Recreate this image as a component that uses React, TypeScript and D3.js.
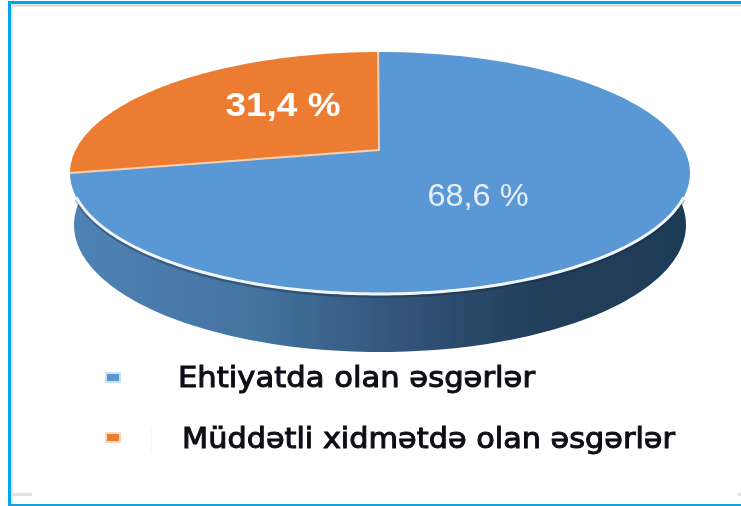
import React from "react";
import * as d3 from "d3";

const categories = ["Ehtiyatda olan əsgərlər", "Müddətli xidmətdə olan əsgərlər"];
const shares = [68.6, 31.4];
const shareLabels = ["68,6 %", "31,4 %"];
const colors = ["#5a98d5", "#ec7c30"];
const wallStops = [
  { at: "0%", color: "#4f83b6" },
  { at: "30%", color: "#43739f" },
  { at: "53%", color: "#32557a" },
  { at: "75%", color: "#233f5c" },
  { at: "100%", color: "#1f3a56" },
];

const width = 741;
const height = 506;

// top face of the pie, the slices meet off centre because of the perspective
const face = { cx: 380, cy: 173, rx: 310, ry: 121 };
const vertex = { x: 379, y: 150 };
const wall = { cx: 380, cy: 225, rx: 306, ry: 127 };

const tau = Math.PI * 2;

function point(e: typeof face, a: number): [number, number] {
  return [e.cx + e.rx * Math.sin(a), e.cy - e.ry * Math.cos(a)];
}

function arcPoints(e: typeof face, a0: number, a1: number) {
  return d3.range(0, 121).map((i) => point(e, a0 + ((a1 - a0) * i) / 120));
}

const line = d3.line();

const slices = d3.pie<number>().sort(null)(shares);

// pie angle -> angle on the tilted ellipse
const skew = d3
  .scaleLinear()
  .domain([0, (tau * shares[0]) / 100, tau])
  .range([-0.001 * tau, 0.75 * tau, 0.999 * tau]);

const rimA0 = Math.PI / 2 + Math.asin(0.2);
const rimA1 = 1.5 * Math.PI - Math.asin(0.2);
const rim = arcPoints(face, rimA0, rimA1);

const wallPath =
  line([
    ...arcPoints(face, rimA0, rimA1),
    ...arcPoints(wall, 1.5 * Math.PI + 0.22, Math.PI / 2 - 0.22),
  ]) + "Z";

const legendY = [377, 437];
const legendBaseline = [387, 448];
const legendTextX = [178, 182];
const legendTextWidth = [357, 493];
const labelPos = [
  { x: 478, y: 206, size: 32, weight: 400, fill: "#e6eef9", w: 101 },
  { x: 283, y: 116, size: 34, weight: 700, fill: "#ffffff", w: 115 },
];

export default function App() {
  return (
    <svg
      width={width}
      height={height}
      style={{ position: "absolute", left: 0, top: 0, background: "#fff" }}
      fontFamily="'Liberation Sans', Arial, sans-serif"
    >
      <defs>
        <linearGradient id="wallFill" x1="0" x2="1" y1="0" y2="0">
          {wallStops.map((s) => (
            <stop key={s.at} offset={s.at} stopColor={s.color} />
          ))}
        </linearGradient>
        <filter id="soft" x="-5%" y="-5%" width="110%" height="110%">
          <feGaussianBlur stdDeviation="0.7" />
        </filter>
        <filter id="softText" x="-5%" y="-20%" width="110%" height="140%">
          <feGaussianBlur stdDeviation="0.45" />
        </filter>
      </defs>

      {/* frame */}
      <rect x={8} y={1} width={733} height={3} fill="#00a4e8" />
      <rect x={11} y={4} width={730} height={3} fill="#e0e0e0" />
      <rect x={8} y={1} width={3} height={505} fill="#00a4e8" />
      <rect x={11} y={4} width={2} height={500} fill="#e4e4e4" />
      <rect x={8} y={504} width={733} height={2} fill="#1a9fd8" />
      <rect x={12} y={493} width={20} height={3} fill="#e2e2e2" />
      <rect x={738} y={493} width={3} height={3} fill="#e2e2e2" />

      <g filter="url(#soft)">
        <path d={wallPath} fill="url(#wallFill)" />
        <path
          d={line(rim) ?? ""}
          transform="translate(0,2.5)"
          fill="none"
          stroke="#10243a"
          strokeOpacity={0.35}
          strokeWidth={3}
        />
        {slices.map((s, i) => {
          const pts = arcPoints(face, skew(s.startAngle), skew(s.endAngle));
          return (
            <path
              key={categories[i]}
              d={line([[vertex.x, vertex.y], ...pts]) + "Z"}
              fill={colors[i]}
            />
          );
        })}
        <path
          d={line([point(face, skew(slices[1].startAngle)), [vertex.x, vertex.y], point(face, skew(slices[1].endAngle))]) ?? ""}
          fill="none"
          stroke="#f9cfae"
          strokeWidth={2}
        />
        <path d={line(rim) ?? ""} fill="none" stroke="#f2f6fa" strokeWidth={3} />
      </g>

      <g filter="url(#softText)">
        {labelPos.map((l, i) => (
          <text
            key={shareLabels[i]}
            x={l.x}
            y={l.y}
            textAnchor="middle"
            fontSize={l.size}
            fontWeight={l.weight}
            fill={l.fill}
            textLength={l.w}
            lengthAdjust="spacingAndGlyphs"
          >
            {shareLabels[i]}
          </text>
        ))}

        {categories.map((c, i) => (
          <g key={c}>
            <rect x={105} y={legendY[i] - 5} width={16} height={11} fill={colors[i]} opacity={0.3} />
            <rect x={107} y={legendY[i] - 3} width={12} height={7} fill={colors[i]} />
            <text
              x={legendTextX[i]}
              y={legendBaseline[i]}
              fontSize={28}
              fontWeight={400}
              fontFamily="'DejaVu Sans', sans-serif"
              stroke="#0a0a14"
              strokeWidth={1}
              fill="#0a0a14"
              textLength={legendTextWidth[i]}
              lengthAdjust="spacingAndGlyphs"
            >
              {c}
            </text>
          </g>
        ))}
      </g>
      <rect x={151} y={429} width={1} height={22} fill="#fdf8dc" />
    </svg>
  );
}
